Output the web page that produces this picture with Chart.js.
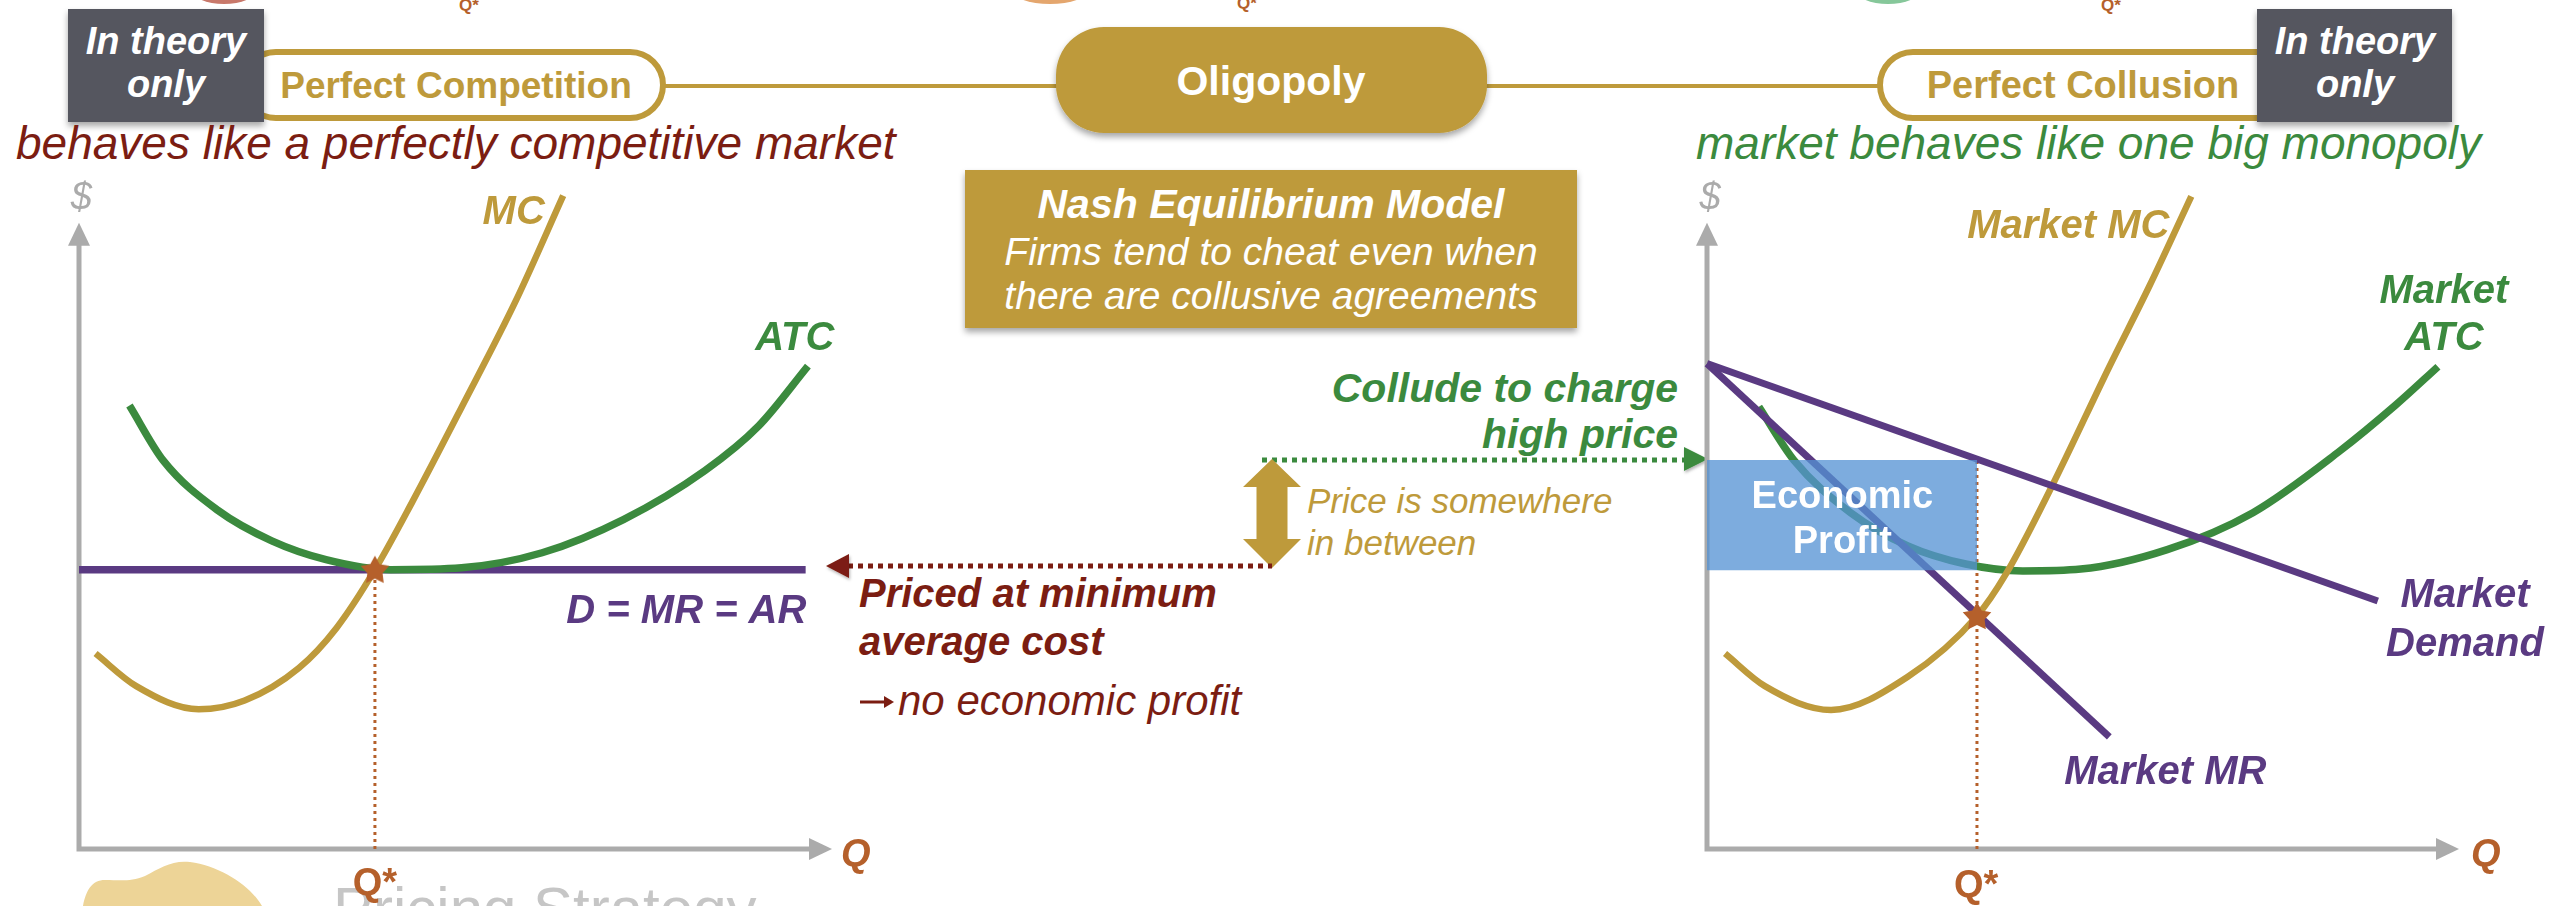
<!DOCTYPE html>
<html><head><meta charset="utf-8">
<script src="https://cdn.jsdelivr.net/npm/chart.js@4.4.0/dist/chart.umd.min.js"></script>
<style>
html,body{margin:0;padding:0;background:#fff;}
#wrap{position:relative;width:2550px;height:906px;overflow:hidden;}
#deco{position:absolute;left:0;top:0;}
#left{position:absolute;left:0;top:0;}
#right{position:absolute;left:1640px;top:0;}
</style></head>
<body><div id="wrap">
<svg id="deco" width="2550" height="906" font-family="Liberation Sans, Arial, sans-serif">
<defs>
<filter id="sh" x="-10%" y="-10%" width="130%" height="140%"><feDropShadow dx="0" dy="4" stdDeviation="3" flood-color="#000" flood-opacity="0.35"/></filter>
<filter id="sh2" x="-20%" y="-20%" width="150%" height="150%"><feDropShadow dx="1" dy="2" stdDeviation="1.5" flood-color="#000" flood-opacity="0.3"/></filter>
</defs>
<!-- cut-off items of the row above -->
<ellipse cx="224" cy="-10" rx="32" ry="14" fill="#C8786A"/>
<text x="459" y="11" font-size="17" font-weight="bold" fill="#B5602B">Q*</text>
<ellipse cx="1050" cy="-10" rx="38" ry="14" fill="#E4A66E"/>
<text x="1237" y="9" font-size="17" font-weight="bold" fill="#B5602B">Q*</text>
<ellipse cx="1888" cy="-10" rx="32" ry="14" fill="#86C79A"/>
<text x="2101" y="11" font-size="17" font-weight="bold" fill="#B5602B">Q*</text>
<!-- connectors -->
<line x1="660" y1="86" x2="1060" y2="86" stroke="#BE9A3B" stroke-width="4"/>
<line x1="1480" y1="86" x2="1882" y2="86" stroke="#BE9A3B" stroke-width="4"/>
<!-- pills -->
<rect x="243" y="52" width="420" height="66" rx="33" fill="#fff" stroke="#BE9A3B" stroke-width="6"/>
<rect x="1880" y="52" width="420" height="66" rx="33" fill="#fff" stroke="#BE9A3B" stroke-width="6"/>
<text x="456" y="98" text-anchor="middle" font-size="37" font-weight="bold" fill="#BE9A3B">Perfect Competition</text>
<text x="2083" y="98" text-anchor="middle" font-size="38" font-weight="bold" fill="#BE9A3B">Perfect Collusion</text>
<!-- grey boxes -->
<rect x="68" y="9" width="196" height="113" fill="#54565E" filter="url(#sh)"/>
<text x="166" y="54" text-anchor="middle" font-size="38" font-weight="bold" font-style="italic" fill="#fff">In theory</text>
<text x="166" y="97" text-anchor="middle" font-size="38" font-weight="bold" font-style="italic" fill="#fff">only</text>
<rect x="2257" y="9" width="195" height="113" fill="#54565E" filter="url(#sh)"/>
<text x="2355" y="54" text-anchor="middle" font-size="38" font-weight="bold" font-style="italic" fill="#fff">In theory</text>
<text x="2355" y="97" text-anchor="middle" font-size="38" font-weight="bold" font-style="italic" fill="#fff">only</text>
<!-- Oligopoly -->
<rect x="1056" y="27" width="431" height="106" rx="48" fill="#BE9A3B" filter="url(#sh)"/>
<text x="1271" y="95" text-anchor="middle" font-size="41" font-weight="bold" fill="#fff">Oligopoly</text>
<!-- Nash box -->
<rect x="965" y="170" width="612" height="158" fill="#BE9A3B" filter="url(#sh)"/>
<text x="1271" y="218" text-anchor="middle" font-size="41" font-weight="bold" font-style="italic" fill="#fff">Nash Equilibrium Model</text>
<text x="1271" y="265" text-anchor="middle" font-size="39" font-style="italic" fill="#fff">Firms tend to cheat even when</text>
<text x="1271" y="309" text-anchor="middle" font-size="39" font-style="italic" fill="#fff">there are collusive agreements</text>
<!-- subtitles -->
<text x="16" y="159" font-size="46" font-style="italic" fill="#7B1D12">behaves like a perfectly competitive market</text>
<text x="1696" y="159" font-size="46" font-style="italic" fill="#3B8A3E">market behaves like one big monopoly</text>
<!-- middle annotations -->
<text x="1678" y="402" text-anchor="end" font-size="41" font-weight="bold" font-style="italic" fill="#3B8A3E">Collude to charge</text>
<text x="1678" y="448" text-anchor="end" font-size="41" font-weight="bold" font-style="italic" fill="#3B8A3E">high price</text>
<line x1="1262" y1="460" x2="1684" y2="460" stroke="#3B8A3E" stroke-width="5" stroke-dasharray="5 5"/>
<polygon points="1708,459 1684,447 1684,471" fill="#3B8A3E" filter="url(#sh2)"/>
<text x="1307" y="513" font-size="35" font-style="italic" fill="#BE9A3B">Price is somewhere</text>
<text x="1307" y="555" font-size="35" font-style="italic" fill="#BE9A3B">in between</text>
<polygon points="1272,459 1301,487 1287.5,487 1287.5,539 1301,539 1272,568 1243,539 1256.5,539 1256.5,487 1243,487" fill="#BE9A3B"/>
<line x1="848" y1="566" x2="1272" y2="566" stroke="#7B1D12" stroke-width="5" stroke-dasharray="5 5"/>
<polygon points="826,566 849,554 849,578" fill="#7B1D12" filter="url(#sh2)"/>
<text x="859" y="607" font-size="40" font-weight="bold" font-style="italic" fill="#7B1D12">Priced at minimum</text>
<text x="859" y="655" font-size="40" font-weight="bold" font-style="italic" fill="#7B1D12">average cost</text>
<line x1="860" y1="702" x2="886" y2="702" stroke="#7B1D12" stroke-width="3"/>
<polygon points="894,702 884,696 884,708" fill="#7B1D12"/>
<text x="898" y="715" font-size="42" font-style="italic" fill="#7B1D12">no economic profit</text>
<!-- watermark -->
<path d="M83,906 C86,890 92,880 105,880 C120,880 130,882 145,876 C160,868 172,860 190,862 C220,866 250,885 262,906 Z" fill="#EDD497"/>
<text x="333" y="929" font-size="60" fill="#C6C6C6">Pricing Strategy</text>
</svg>
<canvas id="left" width="900" height="906"></canvas>
<canvas id="right" width="910" height="906"></canvas>
</div>
<script>
// ---------- data: left panel (perfect competition) ----------
const mcQ  = [0.22, 0.76, 1.59, 2.20, 2.92, 3.42, 3.93, 4.43, 5.08, 5.80, 6.43];
const mcP  = [3.12, 2.60, 2.23, 2.37, 2.89, 3.53, 4.46, 5.55, 7.05, 8.75, 10.43];
const atcQ = [0.67, 1.12, 1.84, 2.56, 3.28, 4.14, 5.08, 6.15, 7.23, 8.31, 9.03, 9.68];
const atcP = [7.08, 6.20, 5.41, 4.92, 4.62, 4.46, 4.49, 4.73, 5.26, 6.04, 6.76, 7.71];
const dQ   = [0, 9.65];
const dP   = [4.46, 4.46];
const eqLeft = [3.93, 4.46];

// ---------- data: right panel (perfect collusion) ----------
const demandQ = [0, 8.92];
const demandP = [7.75, 3.96];
const mrQ     = [0, 5.35];
const mrP     = [7.75, 1.79];
const mmcQ  = [0.24, 0.77, 1.65, 2.67, 3.59, 3.98, 4.59, 5.35, 5.88, 6.44];
const mmcP  = [3.12, 2.60, 2.22, 2.75, 3.72, 4.40, 5.80, 7.70, 8.98, 10.42];
const matcQ = [0.69, 1.16, 1.91, 2.67, 3.44, 4.20, 4.97, 6.12, 7.26, 8.40, 9.16, 9.72];
const matcP = [7.06, 6.20, 5.37, 4.84, 4.55, 4.44, 4.47, 4.78, 5.37, 6.34, 7.09, 7.70];
const eqRight = [3.59, 3.72];
const profitQ = [0, 3.59];
const profitP = [4.45, 6.21];

// axis extents (data units)
const axisQ = 10, axisP = 10;

const GOLD='#BE9A3B', GREEN='#3B8A3E', PURPLE='#5A3A82', ORANGE='#B5602B', AXIS='#ABABAB', WHITE='#FFFFFF';
const BI='italic bold 40px "Liberation Sans", Arial, sans-serif';

function pts(qs, ps){ return qs.map((q,i)=>({x:q, y:ps[i]})); }

function starImg(){
  const c=document.createElement('canvas'); c.width=32; c.height=32;
  const g=c.getContext('2d'); g.fillStyle=ORANGE; g.beginPath();
  for(let i=0;i<10;i++){ const r=i%2?8:15; const a=-Math.PI/2+i*Math.PI/5;
    g.lineTo(16+r*Math.cos(a), 17+r*Math.sin(a)); }
  g.closePath(); g.fill(); return c;
}
const STAR=starImg();

const axesPlugin={ id:'axesArrows',
  beforeDatasetsDraw(chart){
    const {ctx, scales:{x,y}}=chart;
    const x0=x.getPixelForValue(0), y0=y.getPixelForValue(0);
    const xt=x.getPixelForValue(axisQ), yt=y.getPixelForValue(axisP);
    ctx.save(); ctx.strokeStyle=AXIS; ctx.fillStyle=AXIS; ctx.lineWidth=5; ctx.lineJoin='miter';
    ctx.beginPath(); ctx.moveTo(x0,yt+20); ctx.lineTo(x0,y0); ctx.lineTo(xt-20,y0); ctx.stroke();
    ctx.beginPath(); ctx.moveTo(xt,y0); ctx.lineTo(xt-23,y0-11); ctx.lineTo(xt-23,y0+11); ctx.closePath(); ctx.fill();
    ctx.beginPath(); ctx.moveTo(x0,yt); ctx.lineTo(x0-11,yt+23); ctx.lineTo(x0+11,yt+23); ctx.closePath(); ctx.fill();
    ctx.restore();
  }
};
const labelPlugin={ id:'txt',
  afterDatasetsDraw(chart, args, opts){
    const {ctx, scales:{x,y}}=chart;
    ctx.save(); ctx.textBaseline='alphabetic';
    (opts.items||[]).forEach(it=>{
      ctx.font=it.font||BI; ctx.fillStyle=it.color; ctx.textAlign=it.align||'left';
      ctx.fillText(it.text, x.getPixelForValue(it.q), y.getPixelForValue(it.p));
    });
    ctx.restore();
  }
};

function lineDS(data, color, w, extra){
  return Object.assign({data, borderColor:color, borderWidth:w, pointRadius:0, fill:false,
    cubicInterpolationMode:'monotone', clip:false}, extra||{});
}
function makeChart(id, padL, padR, datasets, items){
  return new Chart(document.getElementById(id), {
    type:'line',
    data:{datasets},
    options:{
      responsive:false, animation:false, devicePixelRatio:1,
      layout:{padding:{left:padL, right:padR, top:160, bottom:57}},
      scales:{ x:{type:'linear', min:0, max:10, display:false},
               y:{type:'linear', min:0, max:11, display:false} },
      plugins:{ legend:{display:false}, tooltip:{enabled:false}, txt:{items} },
      elements:{ line:{borderCapStyle:'butt'} }
    },
    plugins:[axesPlugin, labelPlugin]
  });
}

const QF='bold 38px "Liberation Sans", Arial, sans-serif';
const DF='italic 38px "Liberation Sans", Arial, sans-serif';

makeChart('left', 79, 68, [
  {data:[{x:eqLeft[0], y:eqLeft[1]}], showLine:false, pointStyle:STAR, pointRadius:15, clip:false},
  lineDS(pts(mcQ,mcP), GOLD, 6.5),
  lineDS(pts(atcQ,atcP), GREEN, 7.5),
  lineDS(pts(dQ,dP), PURPLE, 7.5, {cubicInterpolationMode:'default', tension:0}),
  lineDS([{x:eqLeft[0],y:0},{x:eqLeft[0],y:eqLeft[1]}], ORANGE, 3, {borderDash:[3,4], cubicInterpolationMode:'default', tension:0})
], [
  {text:'$', q:0.03, p:10.21, align:'center', color:'#ABABAB', font:DF},
  {text:'MC', q:5.36, p:9.98, color:GOLD},
  {text:'ATC', q:8.98, p:7.96, color:GREEN},
  {text:'D = MR = AR', q:9.66, p:3.61, align:'right', color:PURPLE},
  {text:'Q*', q:3.93, p:-0.73, align:'center', color:ORANGE, font:QF},
  {text:'Q', q:10.12, p:-0.27, color:ORANGE, font:'italic '+QF}
]);

makeChart('right', 67, 91, [
  {data:[{x:eqRight[0], y:eqRight[1]}], showLine:false, pointStyle:STAR, pointRadius:15, clip:false},
  {data:pts(profitQ,[profitP[1],profitP[1]]), borderColor:'transparent', borderWidth:0, pointRadius:0,
   fill:{value:profitP[0]}, backgroundColor:'rgba(84,146,212,0.76)', tension:0},
  lineDS(pts(demandQ,demandP), PURPLE, 7, {cubicInterpolationMode:'default', tension:0}),
  lineDS(pts(mrQ,mrP), PURPLE, 7, {cubicInterpolationMode:'default', tension:0}),
  lineDS(pts(mmcQ,mmcP), GOLD, 6.5),
  lineDS(pts(matcQ,matcP), GREEN, 7.5),
  lineDS([{x:eqRight[0],y:0},{x:eqRight[0],y:profitP[1]}], ORANGE, 3, {borderDash:[3,4], cubicInterpolationMode:'default', tension:0})
], [
  {text:'$', q:0.04, p:10.21, align:'center', color:'#ABABAB', font:DF},
  {text:'Market MC', q:3.46, p:9.76, color:GOLD},
  {text:'Market', q:9.80, p:8.71, align:'center', color:GREEN},
  {text:'ATC', q:9.80, p:7.96, align:'center', color:GREEN},
  {text:'Market', q:10.08, p:3.87, align:'center', color:PURPLE},
  {text:'Demand', q:10.08, p:3.08, align:'center', color:PURPLE},
  {text:'Market MR', q:4.75, p:1.04, color:PURPLE},
  {text:'Economic', q:1.80, p:5.45, align:'center', color:WHITE, font:'bold 38px "Liberation Sans", Arial, sans-serif'},
  {text:'Profit', q:1.80, p:4.73, align:'center', color:WHITE, font:'bold 38px "Liberation Sans", Arial, sans-serif'},
  {text:'Q*', q:3.58, p:-0.77, align:'center', color:ORANGE, font:QF},
  {text:'Q', q:10.16, p:-0.27, color:ORANGE, font:'italic '+QF}
]);
</script>
</body></html>
